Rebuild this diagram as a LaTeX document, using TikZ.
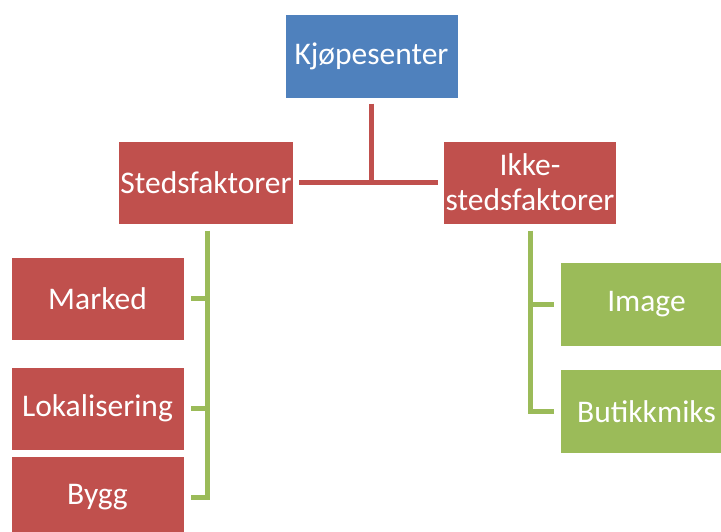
\documentclass[tikz,border=0pt]{standalone}
\usepackage{fontspec}
\setmainfont{Carlito}
\definecolor{boxblue}{HTML}{4F81BD}
\definecolor{boxred}{HTML}{C0504D}
\definecolor{boxgreen}{HTML}{9BBB59}
\tikzset{
  box/.style={rectangle, draw=white, line width=1pt, text=white,
    minimum width=173pt, minimum height=83pt, inner sep=2pt, align=center,
    font=\fontsize{31.5}{35}\selectfont},
  bluebox/.style={box, fill=boxblue},
  redbox/.style={box, fill=boxred},
  greenbox/.style={box, fill=boxgreen},
  redlink/.style={draw=boxred, line width=5pt},
  greenlink/.style={draw=boxgreen, line width=5pt, line join=miter},
}
\begin{document}
\begin{tikzpicture}[x=1pt, y=-1pt]
\useasboundingbox (0,0) rectangle (721,531);
\clip (0,0) rectangle (721,531);

% top level
\node[bluebox, minimum height=84pt] (top) at (371.5,56) {Kjøpesenter};

% second level
\node[redbox] (sted) at (206,182.5) {Stedsfaktorer};
\node[redbox] (ikke) at (530,182.5) {Ikke-\\stedsfaktorer};

% left branch
\node[redbox] (marked) at (97.5,298.5) {Marked};
\node[redbox] (lokal) at (97.5,408.5) {Lokalisering};
\node[redbox] (bygg) at (97.5,497.5) {Bygg};

% right branch
\node[greenbox, minimum height=84pt] (image) at (646.5,304) {Image};
\node[greenbox, minimum height=84pt] (butikk) at (646.5,411.5) {Butikkmiks};

% connectors from the top node
\draw[redlink] ([yshift=-5pt]top.south) -- (top.south |- sted.east);
\draw[redlink, shorten <=5pt, shorten >=5pt] (sted.east) -- (ikke.west);

% connectors of the left branch
\draw[greenlink] ([shift={(1pt,-6pt)}]sted.south) |- ([xshift=6pt]bygg.east);
\draw[greenlink] ([xshift=1pt]sted.south |- marked.east) -- ([xshift=6pt]marked.east);
\draw[greenlink] ([xshift=1pt]sted.south |- lokal.east) -- ([xshift=6pt]lokal.east);

% connectors of the right branch
\draw[greenlink] ([yshift=-6pt]ikke.south) |- ([xshift=-6pt]butikk.west);
\draw[greenlink] (ikke.south |- image.west) -- ([xshift=-6pt]image.west);
\end{tikzpicture}
\end{document}
